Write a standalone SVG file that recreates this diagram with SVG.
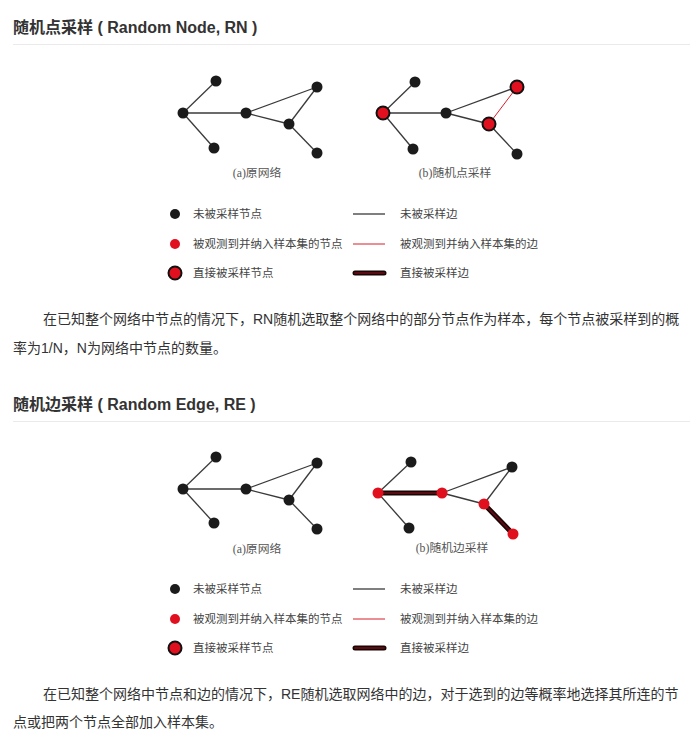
<svg xmlns="http://www.w3.org/2000/svg" width="695" height="732" viewBox="0 0 695 732">
  <style>
    .h { font-family: "Liberation Sans", "Noto Sans CJK SC", sans-serif; font-size: 16px; font-weight: bold; fill: #333; }
    .p { font-family: "Liberation Sans", "Noto Sans CJK SC", sans-serif; font-size: 14px; fill: #333; }
    .cap { font-family: "Liberation Serif", "Noto Sans CJK SC", serif; font-size: 11.8px; fill: #555; text-anchor: middle; }
    .lg { font-family: "Liberation Serif", "Noto Sans CJK SC", serif; font-size: 11.5px; fill: #444; }
    .rule { stroke: #eaeaea; stroke-width: 1; }
    .e { stroke: #3a3a3a; stroke-width: 1.3; fill: none; }
    .er { stroke: #d81e2a; stroke-width: 1; fill: none; }
    .et { stroke: #1a0505; stroke-width: 5; stroke-linecap: round; fill: none; }
    .eti { stroke: #5a0c12; stroke-width: 2; stroke-linecap: round; fill: none; }
    .n { fill: #1b1b1b; }
    .nr { fill: #e0101e; }
    .ns { fill: #e0101e; stroke: #111; stroke-width: 2; }
  </style>

  <!-- Section 1: random node sampling -->
  <text class="h" x="13" y="33">随机点采样 ( Random Node, RN )</text>
  <line class="rule" x1="13" y1="44.5" x2="690" y2="44.5"/>

  <!-- (a) original network -->
  <g id="edges-rn-a">
    <line class="e" x1="183" y1="113" x2="216" y2="81"/>
    <line class="e" x1="183" y1="113" x2="214" y2="148"/>
    <line class="e" x1="183" y1="113" x2="246" y2="113"/>
    <line class="e" x1="246" y1="113" x2="317" y2="87"/>
    <line class="e" x1="246" y1="113" x2="289" y2="124"/>
    <line class="e" x1="289" y1="124" x2="317" y2="87"/>
    <line class="e" x1="289" y1="124" x2="317" y2="153"/>
  </g>
  <g id="rn-a-n1"><circle class="n" cx="216" cy="81" r="5.5"/></g>
  <g id="rn-a-n2"><circle class="n" cx="183" cy="113" r="5.5"/></g>
  <g id="rn-a-n3"><circle class="n" cx="214" cy="148" r="5.5"/></g>
  <g id="rn-a-n4"><circle class="n" cx="246" cy="113" r="5.5"/></g>
  <g id="rn-a-n5"><circle class="n" cx="317" cy="87" r="5.5"/></g>
  <g id="rn-a-n6"><circle class="n" cx="289" cy="124" r="5.5"/></g>
  <g id="rn-a-n7"><circle class="n" cx="317" cy="153" r="5.5"/></g>
  <text class="cap" x="257" y="177">(a)原网络</text>

  <!-- (b) random node sampling -->
  <g id="edges-rn-b">
    <line class="e" x1="383" y1="113" x2="415" y2="82"/>
    <line class="e" x1="383" y1="113" x2="413" y2="149"/>
    <line class="e" x1="383" y1="113" x2="446" y2="113"/>
    <line class="e" x1="446" y1="113" x2="517" y2="87"/>
    <line class="e" x1="446" y1="113" x2="489" y2="124"/>
    <line class="er" x1="489" y1="124" x2="517" y2="87"/>
    <line class="e" x1="489" y1="124" x2="517" y2="154"/>
  </g>
  <g id="rn-b-n1"><circle class="n" cx="415" cy="82" r="5.5"/></g>
  <g id="rn-b-n2"><circle class="ns" cx="383" cy="113" r="6.5"/></g>
  <g id="rn-b-n3"><circle class="n" cx="413" cy="149" r="5.5"/></g>
  <g id="rn-b-n4"><circle class="n" cx="446" cy="113" r="5.5"/></g>
  <g id="rn-b-n5"><circle class="ns" cx="517" cy="87" r="6.5"/></g>
  <g id="rn-b-n6"><circle class="ns" cx="489" cy="124" r="6.5"/></g>
  <g id="rn-b-n7"><circle class="n" cx="517" cy="154" r="5.5"/></g>
  <text class="cap" x="455" y="177">(b)随机点采样</text>

  <!-- legend 1 -->
  <g id="legend-rn">
    <circle class="n" cx="175" cy="214" r="5"/>
    <text class="lg" x="193" y="218">未被采样节点</text>
    <circle class="nr" cx="175" cy="244" r="5"/>
    <text class="lg" x="193" y="248">被观测到并纳入样本集的节点</text>
    <circle class="ns" cx="175" cy="273" r="6.5"/>
    <text class="lg" x="193" y="277">直接被采样节点</text>
    <line class="e" x1="353" y1="214" x2="385" y2="214"/>
    <text class="lg" x="400" y="218">未被采样边</text>
    <line class="er" x1="353" y1="244" x2="385" y2="244"/>
    <text class="lg" x="400" y="248">被观测到并纳入样本集的边</text>
    <line class="et" x1="355" y1="273" x2="384" y2="273"/>
    <line class="eti" x1="355" y1="273" x2="384" y2="273"/>
    <text class="lg" x="400" y="277">直接被采样边</text>
  </g>

  <text class="p" x="43" y="324">在已知整个网络中节点的情况下，RN随机选取整个网络中的部分节点作为样本，每个节点被采样到的概</text>
  <text class="p" x="13" y="353">率为1/N，N为网络中节点的数量。</text>

  <!-- Section 2: random edge sampling -->
  <text class="h" x="13" y="410">随机边采样 ( Random Edge, RE )</text>
  <line class="rule" x1="13" y1="421.5" x2="690" y2="421.5"/>

  <!-- (a) original network -->
  <g id="edges-re-a">
    <line class="e" x1="183" y1="489" x2="216" y2="457"/>
    <line class="e" x1="183" y1="489" x2="214" y2="523"/>
    <line class="e" x1="183" y1="489" x2="246" y2="489"/>
    <line class="e" x1="246" y1="489" x2="317" y2="463"/>
    <line class="e" x1="246" y1="489" x2="289" y2="500"/>
    <line class="e" x1="289" y1="500" x2="317" y2="463"/>
    <line class="e" x1="289" y1="500" x2="317" y2="529"/>
  </g>
  <g id="re-a-n1"><circle class="n" cx="216" cy="457" r="5.5"/></g>
  <g id="re-a-n2"><circle class="n" cx="183" cy="489" r="5.5"/></g>
  <g id="re-a-n3"><circle class="n" cx="214" cy="523" r="5.5"/></g>
  <g id="re-a-n4"><circle class="n" cx="246" cy="489" r="5.5"/></g>
  <g id="re-a-n5"><circle class="n" cx="317" cy="463" r="5.5"/></g>
  <g id="re-a-n6"><circle class="n" cx="289" cy="500" r="5.5"/></g>
  <g id="re-a-n7"><circle class="n" cx="317" cy="529" r="5.5"/></g>
  <text class="cap" x="257" y="553">(a)原网络</text>

  <!-- (b) random edge sampling -->
  <g id="edges-re-b">
    <line class="e" x1="378" y1="493" x2="411" y2="462"/>
    <line class="e" x1="378" y1="493" x2="409" y2="528"/>
    <line class="et" x1="378" y1="493" x2="442" y2="493"/>
    <line class="eti" x1="378" y1="493" x2="442" y2="493"/>
    <line class="e" x1="442" y1="493" x2="512" y2="467"/>
    <line class="e" x1="442" y1="493" x2="484" y2="504"/>
    <line class="e" x1="484" y1="504" x2="512" y2="467"/>
    <line class="et" x1="484" y1="504" x2="513" y2="534"/>
    <line class="eti" x1="484" y1="504" x2="513" y2="534"/>
  </g>
  <g id="re-b-n1"><circle class="n" cx="411" cy="462" r="5.5"/></g>
  <g id="re-b-n2"><circle class="nr" cx="378" cy="493" r="5.5"/></g>
  <g id="re-b-n3"><circle class="n" cx="409" cy="528" r="5.5"/></g>
  <g id="re-b-n4"><circle class="nr" cx="442" cy="493" r="5.5"/></g>
  <g id="re-b-n5"><circle class="n" cx="512" cy="467" r="5.5"/></g>
  <g id="re-b-n6"><circle class="nr" cx="484" cy="504" r="5.5"/></g>
  <g id="re-b-n7"><circle class="nr" cx="513" cy="534" r="5.5"/></g>
  <text class="cap" x="452" y="552">(b)随机边采样</text>

  <!-- legend 2 -->
  <g id="legend-re">
    <circle class="n" cx="175" cy="589" r="5"/>
    <text class="lg" x="193" y="593">未被采样节点</text>
    <circle class="nr" cx="175" cy="619" r="5"/>
    <text class="lg" x="193" y="623">被观测到并纳入样本集的节点</text>
    <circle class="ns" cx="175" cy="648" r="6.5"/>
    <text class="lg" x="193" y="652">直接被采样节点</text>
    <line class="e" x1="353" y1="589" x2="385" y2="589"/>
    <text class="lg" x="400" y="593">未被采样边</text>
    <line class="er" x1="353" y1="619" x2="385" y2="619"/>
    <text class="lg" x="400" y="623">被观测到并纳入样本集的边</text>
    <line class="et" x1="355" y1="648" x2="384" y2="648"/>
    <line class="eti" x1="355" y1="648" x2="384" y2="648"/>
    <text class="lg" x="400" y="652">直接被采样边</text>
  </g>

  <text class="p" x="43" y="699">在已知整个网络中节点和边的情况下，RE随机选取网络中的边，对于选到的边等概率地选择其所连的节</text>
  <text class="p" x="13" y="727">点或把两个节点全部加入样本集。</text>
</svg>
